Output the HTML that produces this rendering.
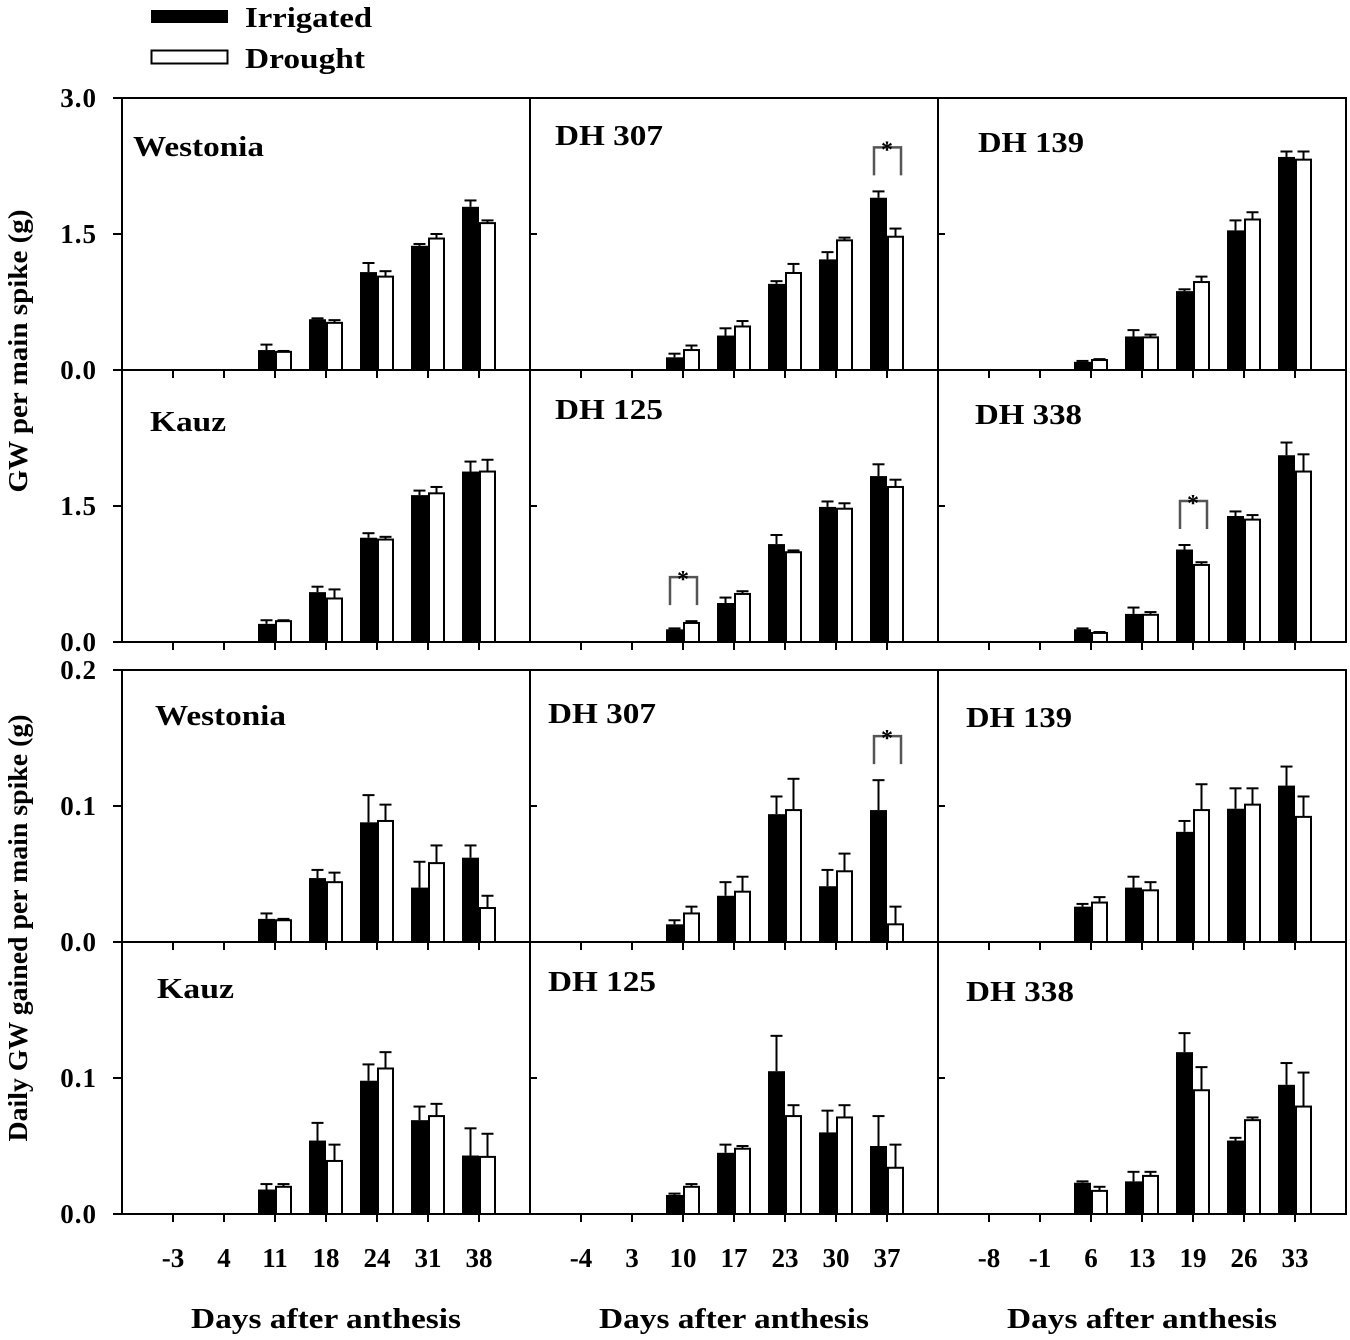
<!DOCTYPE html>
<html><head><meta charset="utf-8"><style>
html,body{margin:0;padding:0;background:#fff;}
svg{display:block;}
text{font-family:"Liberation Serif",serif;font-weight:bold;fill:#000;}
</style></head><body>
<svg id="chart" width="1350" height="1340" viewBox="0 0 1350 1340" xmlns="http://www.w3.org/2000/svg">
<g>
<rect x="151" y="10" width="77" height="13" fill="#000"/>
<text x="245" y="27" font-size="29" textLength="127" lengthAdjust="spacingAndGlyphs">Irrigated</text>
<rect x="151.5" y="50.5" width="76" height="13" fill="#fff" stroke="#000" stroke-width="2"/>
<text x="245" y="68" font-size="29" textLength="120" lengthAdjust="spacingAndGlyphs">Drought</text>
</g>
<text transform="translate(27,351) rotate(-90)" text-anchor="middle" font-size="27" textLength="283" lengthAdjust="spacingAndGlyphs">GW per main spike (g)</text>
<text transform="translate(27,928) rotate(-90)" text-anchor="middle" font-size="27" textLength="427" lengthAdjust="spacingAndGlyphs">Daily GW gained per main spike (g)</text>
</svg>
<script>
// categories (days after anthesis) per column
const daysCol1 = ["-3","4","11","18","24","31","38"];
const daysCol2 = ["-4","3","10","17","23","30","37"];
const daysCol3 = ["-8","-1","6","13","19","26","33"];
const genotypes = ["Westonia","DH 307","DH 139","Kauz","DH 125","DH 338"];
// GW per main spike (g): irrigated / drought / errors
const gwIrr = [
 [0,0,0.22,0.56,1.08,1.37,1.80],
 [0,0,0.14,0.38,0.95,1.22,1.90],
 [0,0,0.09,0.37,0.87,1.54,2.35],
 [0,0,0.20,0.55,1.15,1.62,1.88],
 [0,0,0.14,0.43,1.08,1.49,1.83],
 [0,0,0.14,0.31,1.02,1.39,2.06]];
const gwDro = [
 [0,0,0.20,0.52,1.03,1.45,1.62],
 [0,0,0.22,0.48,1.07,1.43,1.47],
 [0,0,0.11,0.36,0.97,1.66,2.32],
 [0,0,0.23,0.48,1.13,1.64,1.88],
 [0,0,0.21,0.53,0.99,1.47,1.71],
 [0,0,0.10,0.30,0.85,1.35,1.88]];
const gwIrrErr = [
 [0,0,0.06,0.01,0.10,0.02,0.07],
 [0,0,0.04,0.08,0.03,0.08,0.07],
 [0,0,0.01,0.07,0.02,0.11,0.06],
 [0,0,0.04,0.06,0.05,0.05,0.11],
 [0,0,0.01,0.06,0.10,0.06,0.13],
 [0,0,0.01,0.07,0.05,0.05,0.14]];
const gwDroErr = [
 [0,0,0.01,0.03,0.06,0.05,0.03],
 [0,0,0.05,0.06,0.10,0.03,0.09],
 [0,0,0.01,0.03,0.06,0.08,0.09],
 [0,0,0.01,0.10,0.03,0.07,0.13],
 [0,0,0.02,0.03,0.02,0.06,0.08],
 [0,0,0.01,0.03,0.03,0.05,0.19]];
// daily GW gained (g)
const dIrr = [
 [0,0,0.017,0.047,0.088,0.040,0.062],
 [0,0,0.013,0.034,0.094,0.041,0.097],
 [0,0,0.026,0.040,0.081,0.098,0.115],
 [0,0,0.018,0.054,0.098,0.069,0.043],
 [0,0,0.014,0.045,0.105,0.060,0.050],
 [0,0,0.023,0.024,0.119,0.054,0.095]];
const dDro = [
 [0,0,0.016,0.044,0.089,0.058,0.025],
 [0,0,0.021,0.037,0.097,0.052,0.013],
 [0,0,0.029,0.038,0.097,0.101,0.092],
 [0,0,0.020,0.039,0.107,0.072,0.042],
 [0,0,0.020,0.048,0.072,0.071,0.034],
 [0,0,0.017,0.028,0.091,0.069,0.079]];
const dIrrErr = [
 [0,0,0.004,0.006,0.020,0.019,0.009],
 [0,0,0.003,0.010,0.013,0.012,0.022],
 [0,0,0.002,0.008,0.008,0.015,0.014],
 [0,0,0.004,0.013,0.012,0.010,0.020],
 [0,0,0.001,0.006,0.026,0.016,0.022],
 [0,0,0.001,0.007,0.014,0.002,0.016]];
const dDroErr = [
 [0,0,0.001,0.007,0.012,0.013,0.009],
 [0,0,0.005,0.011,0.023,0.013,0.013],
 [0,0,0.004,0.006,0.019,0.012,0.015],
 [0,0,0.002,0.012,0.012,0.009,0.017],
 [0,0,0.002,0.002,0.008,0.009,0.017],
 [0,0,0.003,0.003,0.017,0.002,0.025]];
// significance markers: [genotype index, category index]
const gwStars = [[1,6],[4,2],[5,4]];
const dStars = [[1,6]];
const gwTicks = ["0.0","1.5","3.0"];
const gwTickVals = [0,1.5,3.0];
const dTicks = ["0.0","0.1","0.2"];
const dTickVals = [0,0.1,0.2];

const NS="http://www.w3.org/2000/svg";
const svg=document.getElementById('chart');
function mk(tag,attrs,parent){const e=document.createElementNS(NS,tag);for(const k in attrs)e.setAttribute(k,attrs[k]);(parent||svg).appendChild(e);return e;}
const colX=[122,530,938], panelW=408, panelH=272, slot=51;
const rowTop=[98,370,670,942];
const dayCols=[daysCol1,daysCol2,daysCol3];
const labelPos=[[[133,156],[555,145],[978,152],[150,431],[555,419],[975,424]],
 [[155,725],[548,723],[966,727],[157,998],[548,991],[966,1001]]];
const labelW=[[131,108,106,76,108,107],[131,108,106,77,108,108]];
function xC(col,i){return colX[col]+slot*(i+1);}
function drawGroup(g,top,max,irr,dro,ie,de,stars,ticks,tickVals){
 for(let r=0;r<2;r++){
  const y0=rowTop[top+r]+panelH;
  const ys=v=>y0-v/max*panelH;
  tickVals.forEach((tv,k)=>{
   if(r===1&&k===2)return;
   const t=mk('text',{x:97,y:ys(tv)+9,'text-anchor':'end','font-size':27,'letter-spacing':1});
   
   
   t.textContent=ticks[k];
   for(let c=0;c<3;c++){
    const tk=mk('line',{x1:colX[c]-(c===0?9:0),x2:colX[c]+(c===0?0:7),y1:ys(tv),y2:ys(tv),stroke:'#000','stroke-width':2});
    
    
   }
  });
  for(let c=0;c<3;c++){
   const gi=r*3+c;
   const p=mk('g',{});
   
   
   mk('rect',{x:colX[c],y:rowTop[top+r],width:panelW,height:panelH,fill:'none',stroke:'#000','stroke-width':2},p);
   const lab=mk('text',{x:labelPos[g][gi][0],y:labelPos[g][gi][1],'font-size':28,textLength:labelW[g][gi],lengthAdjust:'spacingAndGlyphs'},p);
   
   
   lab.textContent=genotypes[gi];
   for(let i=0;i<7;i++){
    const cx=xC(c,i);
    const tk=mk('line',{x1:cx,x2:cx,y1:y0,y2:y0+8,stroke:'#000','stroke-width':2},p);
    
    
    const vals=[irr[gi][i],dro[gi][i]], errs=[ie[gi][i],de[gi][i]];
    for(let s=0;s<2;s++){
     if(vals[s]<=0)continue;
     const x=s===0?cx-17:cx, yt=ys(vals[s]);
     const b=mk('rect',{x:x+(s?1:0),y:yt,width:s?15:17,height:y0-yt,fill:s?'#fff':'#000',stroke:'#000','stroke-width':s?2:0},p);
     
     
     const ye=ys(vals[s]+errs[s]), mx=x+8.5;
     const e1=mk('line',{x1:mx,x2:mx,y1:yt,y2:ye,stroke:'#000','stroke-width':2},p);
     
     
     const e2=mk('line',{x1:mx-6,x2:mx+6,y1:ye,y2:ye,stroke:'#000','stroke-width':2},p);
     
     
    }
   }
   stars.forEach(st=>{
    if(st[0]!==gi)return;
    const i=st[1], cx=xC(c,i);
    const top1=Math.min(ys(irr[gi][i]+ie[gi][i]),ys(dro[gi][i]+de[gi][i]));
    const yb=top1-16, yt=yb-28;
    const br=mk('polyline',{points:`${cx-13},${yb} ${cx-13},${yt} ${cx+14},${yt} ${cx+14},${yb}`,fill:'none',stroke:'#555','stroke-width':2.5},p);
    
    
    const sx=mk('text',{x:cx,y:yt+10,'text-anchor':'middle','font-size':24},p);
    
    
    sx.textContent='*';
   });
  }
 }
}
drawGroup(0,0,3.0,gwIrr,gwDro,gwIrrErr,gwDroErr,gwStars,gwTicks,gwTickVals);
drawGroup(1,2,0.2,dIrr,dDro,dIrrErr,dDroErr,dStars,dTicks,dTickVals);
for(let c=0;c<3;c++){
 dayCols[c].forEach((d,i)=>{
  const t=mk('text',{x:xC(c,i),y:1267,'text-anchor':'middle','font-size':27});
  
  
  t.textContent=d;
 });
 const xt=mk('text',{x:colX[c]+204,y:1328,'text-anchor':'middle','font-size':28,textLength:270,lengthAdjust:'spacingAndGlyphs'});
 
 
 xt.textContent='Days after anthesis';
}
</script>
</body></html>
